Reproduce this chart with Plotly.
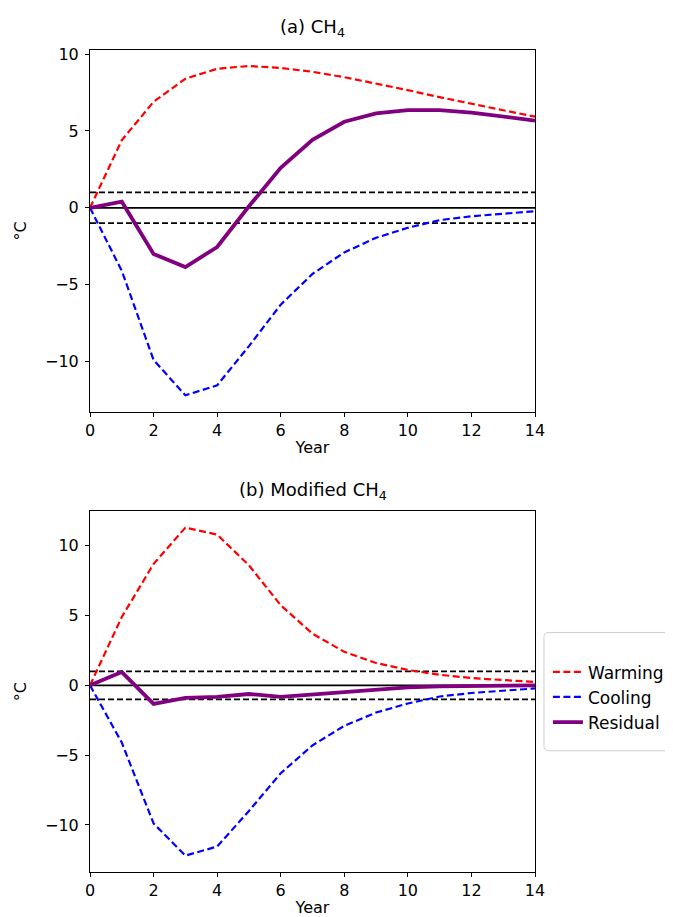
import plotly.graph_objects as go

years = list(range(15))

warming_a = [0.0, 4.4, 6.9, 8.4, 9.05, 9.23, 9.1, 8.85, 8.5, 8.1, 7.66, 7.2, 6.8, 6.35, 5.93]
cooling_a = [0.0, -4.1, -9.9, -12.2, -11.55, -9.0, -6.3, -4.3, -2.9, -1.95, -1.3, -0.8, -0.55, -0.37, -0.22]
residual_a = [0.0, 0.4, -3.0, -3.85, -2.55, 0.1, 2.6, 4.42, 5.6, 6.15, 6.36, 6.36, 6.2, 5.95, 5.68]

warming_b = [0.0, 4.9, 8.7, 11.3, 10.8, 8.6, 5.74, 3.7, 2.4, 1.6, 1.1, 0.76, 0.52, 0.36, 0.24]
cooling_b = [0.0, -4.1, -9.9, -12.2, -11.55, -9.0, -6.3, -4.3, -2.9, -1.95, -1.3, -0.8, -0.55, -0.37, -0.22]
residual_b = [0.0, 0.95, -1.33, -0.9, -0.83, -0.62, -0.83, -0.66, -0.43, -0.26, -0.14, -0.07, -0.03, -0.02, 0.0]

ref_solid = [0]
ref_dashed = [1, -1]

titles = ["(a) CH<sub>4</sub>", "(b) Modified CH<sub>4</sub>"]
FONT = "DejaVu Sans"

fig = go.Figure()

panels = [
    ("x", "y", warming_a, cooling_a, residual_a, False),
    ("x2", "y2", warming_b, cooling_b, residual_b, True),
]
for xa, ya, w, c, r, leg in panels:
    for lvl in ref_solid:
        fig.add_trace(go.Scatter(x=[years[0], years[-1]], y=[lvl, lvl], mode="lines",
                                 line=dict(color="black", width=1.7), xaxis=xa, yaxis=ya,
                                 showlegend=False, hoverinfo="skip"))
    for lvl in ref_dashed:
        fig.add_trace(go.Scatter(x=[years[0], years[-1]], y=[lvl, lvl], mode="lines",
                                 line=dict(color="black", width=1.7, dash="6px,3px"), xaxis=xa, yaxis=ya,
                                 showlegend=False, hoverinfo="skip"))
    fig.add_trace(go.Scatter(x=years, y=w, mode="lines", name="Warming",
                             line=dict(color="red", width=2.2, dash="7px,3.5px"),
                             xaxis=xa, yaxis=ya, showlegend=leg))
    fig.add_trace(go.Scatter(x=years, y=c, mode="lines", name="Cooling",
                             line=dict(color="blue", width=2.2, dash="7px,3.5px"),
                             xaxis=xa, yaxis=ya, showlegend=leg))
    fig.add_trace(go.Scatter(x=years, y=r, mode="lines", name="Residual",
                             line=dict(color="#800080", width=3.8),
                             xaxis=xa, yaxis=ya, showlegend=leg))

axis_common = dict(showline=True, linecolor="black", linewidth=1, mirror=True,
                   ticks="outside", ticklen=4, tickcolor="black", showgrid=False,
                   zeroline=False, tickfont=dict(family=FONT, size=16, color="black"))

# legend frame (rounded) drawn as a paper shape: x from 538px to past the right edge, y 628..747px
L, R, T, B = 538, 690, 628, 747
def px_x(p):
    return (p - 81) / 448.0
def px_y(p):
    return (869 - p) / 827.0
rr = 5
path = (f"M {px_x(L + rr)},{px_y(T)} L {px_x(R)},{px_y(T)} L {px_x(R)},{px_y(B)} "
        f"L {px_x(L + rr)},{px_y(B)} Q {px_x(L)},{px_y(B)} {px_x(L)},{px_y(B - rr)} "
        f"L {px_x(L)},{px_y(T + rr)} Q {px_x(L)},{px_y(T)} {px_x(L + rr)},{px_y(T)} Z")

fig.update_layout(
    width=673, height=917,
    margin=dict(l=81, r=144, t=42, b=48),
    plot_bgcolor="white", paper_bgcolor="white",
    font=dict(family=FONT, size=16, color="black"),
    xaxis=dict(domain=[0, 1], range=[0, 14], dtick=2, anchor="y",
               title=dict(text="Year", font=dict(family=FONT, size=16), standoff=2), **axis_common),
    yaxis=dict(domain=[0.5599, 1.0], range=[-13.27, 10.27], dtick=5, anchor="x",
               ticklabelstandoff=3,
               title=dict(text="°C", font=dict(family=FONT, size=16), standoff=14), **axis_common),
    xaxis2=dict(domain=[0, 1], range=[0, 14], dtick=2, anchor="y2",
                title=dict(text="Year", font=dict(family=FONT, size=16), standoff=2), **axis_common),
    yaxis2=dict(domain=[0.0, 0.4389], range=[-13.375, 12.475], dtick=5, anchor="x2",
                ticklabelstandoff=3,
                title=dict(text="°C", font=dict(family=FONT, size=16), standoff=14), **axis_common),
    legend=dict(x=px_x(542), y=px_y(650), xanchor="left", yanchor="top",
                borderwidth=0, bgcolor="rgba(0,0,0,0)",
                font=dict(family=FONT, size=17, color="black"), tracegroupgap=0),
    shapes=[dict(type="path", xref="paper", yref="paper", path=path,
                 line=dict(color="#d0d0d0", width=1), fillcolor="white", layer="below")],
    annotations=[
        dict(text=titles[0], xref="paper", yref="paper", x=0.5, y=1.0, yshift=8,
             xanchor="center", yanchor="bottom", showarrow=False,
             font=dict(family=FONT, size=18, color="black")),
        dict(text=titles[1], xref="paper", yref="paper", x=0.5, y=0.4389, yshift=6,
             xanchor="center", yanchor="bottom", showarrow=False,
             font=dict(family=FONT, size=18, color="black")),
    ],
)

fig.write_html("out.html")
